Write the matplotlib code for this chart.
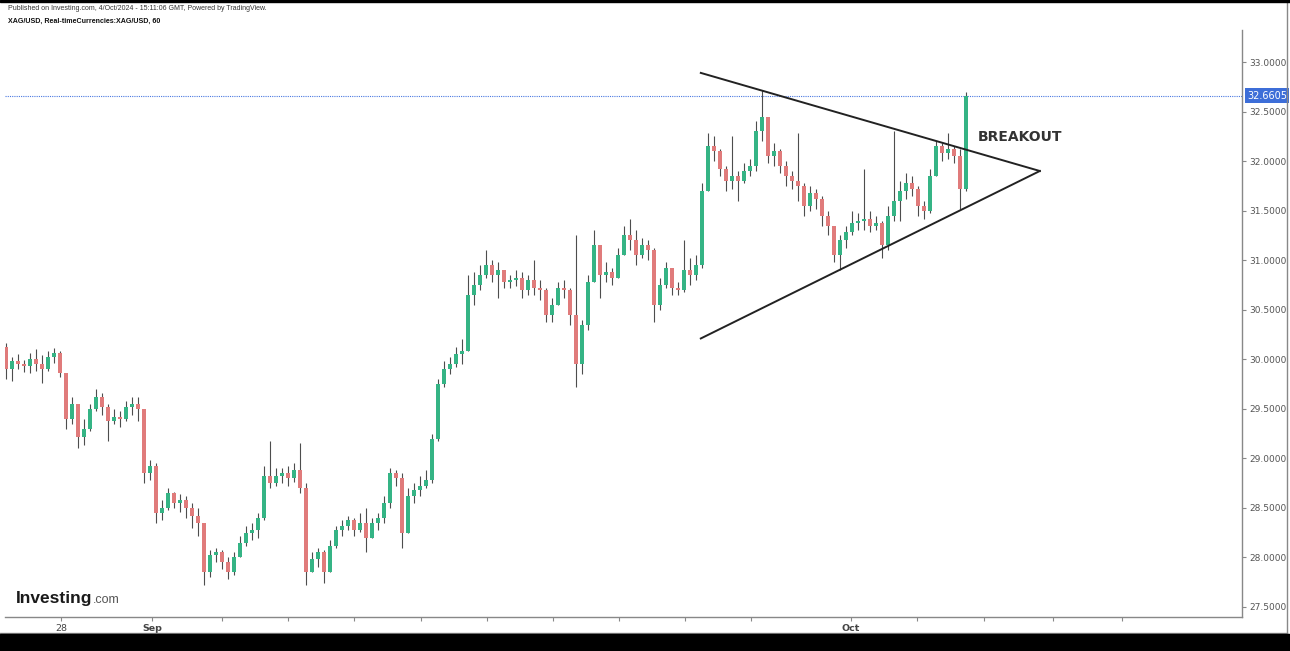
import numpy as np
import matplotlib
matplotlib.use("Agg")
import matplotlib.pyplot as plt
from matplotlib.lines import Line2D
from matplotlib.patches import Rectangle
import matplotlib.transforms as mtransforms

# XAG/USD candles (one candle every ~2 hours)
first_open = 30.12
closes = [29.90, 29.98, 29.95, 29.93, 30.00, 29.95, 29.90, 30.02, 30.06, 29.86,
          29.40, 29.55, 29.22, 29.30, 29.50, 29.62, 29.52, 29.38, 29.42, 29.40,
          29.52, 29.55, 29.50, 28.85, 28.92, 28.45, 28.50, 28.65, 28.55, 28.58,
          28.50, 28.42, 28.35, 27.85, 28.02, 28.05, 27.95, 27.85, 28.00, 28.15,
          28.25, 28.28, 28.40, 28.82, 28.75, 28.82, 28.85, 28.80, 28.88, 28.70,
          27.85, 27.98, 28.05, 27.85, 28.12, 28.28, 28.32, 28.38, 28.28, 28.35,
          28.20, 28.35, 28.40, 28.55, 28.85, 28.80, 28.25, 28.62, 28.68, 28.72,
          28.78, 29.20, 29.75, 29.90, 29.95, 30.05, 30.08, 30.65, 30.75, 30.85,
          30.95, 30.85, 30.90, 30.78, 30.80, 30.82, 30.70, 30.80, 30.72, 30.70,
          30.45, 30.55, 30.72, 30.70, 30.45, 29.95, 30.35, 30.78, 31.15, 30.85,
          30.88, 30.82, 31.05, 31.25, 31.20, 31.05, 31.15, 31.10, 30.55, 30.75,
          30.92, 30.72, 30.70, 30.90, 30.85, 30.95, 31.70, 32.15, 32.10, 31.92,
          31.80, 31.85, 31.80, 31.90, 31.95, 32.30, 32.45, 32.05, 32.10, 31.95,
          31.85, 31.80, 31.75, 31.55, 31.68, 31.62, 31.45, 31.35, 31.05, 31.20,
          31.28, 31.38, 31.40, 31.42, 31.35, 31.38, 31.15, 31.45, 31.60, 31.70,
          31.78, 31.72, 31.55, 31.50, 31.85, 32.15, 32.08, 32.12, 32.05, 31.72,
          32.66]
highs = [30.16, 30.02, 30.05, 29.99, 30.06, 30.10, 30.04, 30.08, 30.11, 30.08,
         29.85, 29.62, 29.45, 29.40, 29.55, 29.70, 29.66, 29.55, 29.50, 29.48,
         29.58, 29.62, 29.62, 29.45, 28.98, 28.95, 28.58, 28.70, 28.66, 28.64,
         28.62, 28.55, 28.50, 28.30, 28.08, 28.10, 28.08, 28.00, 28.05, 28.22,
         28.32, 28.35, 28.45, 28.92, 29.18, 28.90, 28.90, 28.92, 28.95, 29.15,
         28.75, 28.05, 28.10, 28.08, 28.18, 28.32, 28.38, 28.42, 28.40, 28.45,
         28.50, 28.40, 28.45, 28.62, 28.90, 28.88, 28.85, 28.70, 28.75, 28.82,
         28.88, 29.25, 29.80, 29.98, 30.02, 30.12, 30.20, 30.85, 30.88, 30.95,
         31.10, 31.00, 30.98, 30.88, 30.85, 30.90, 30.88, 30.85, 31.00, 30.80,
         30.72, 30.62, 30.78, 30.80, 30.72, 31.25, 30.40, 30.85, 31.30, 31.15,
         30.98, 30.92, 31.12, 31.35, 31.42, 31.30, 31.22, 31.20, 31.12, 30.82,
         30.98, 30.90, 30.78, 31.20, 31.02, 31.05, 31.78, 32.28, 32.25, 32.12,
         31.95, 32.25, 31.90, 31.98, 32.02, 32.40, 32.72, 32.45, 32.18, 32.12,
         32.00, 31.90, 32.28, 31.78, 31.75, 31.72, 31.65, 31.50, 31.35, 31.25,
         31.35, 31.50, 31.48, 31.92, 31.50, 31.45, 31.40, 31.55, 32.30, 31.80,
         31.88, 31.85, 31.75, 31.60, 31.92, 32.20, 32.18, 32.28, 32.15, 32.12,
         32.70]
lows = [29.80, 29.78, 29.90, 29.87, 29.86, 29.88, 29.76, 29.88, 29.96, 29.82,
        29.30, 29.35, 29.10, 29.13, 29.28, 29.48, 29.44, 29.18, 29.35, 29.32,
        29.38, 29.44, 29.38, 28.75, 28.78, 28.35, 28.38, 28.48, 28.50, 28.46,
        28.40, 28.30, 28.22, 27.72, 27.80, 27.95, 27.88, 27.78, 27.82, 28.00,
        28.12, 28.18, 28.20, 28.38, 28.70, 28.72, 28.75, 28.72, 28.76, 28.65,
        27.72, 27.85, 27.90, 27.74, 27.90, 28.10, 28.22, 28.28, 28.22, 28.26,
        28.06, 28.22, 28.28, 28.35, 28.50, 28.72, 28.10, 28.25, 28.55, 28.62,
        28.70, 28.75, 29.18, 29.72, 29.85, 29.92, 29.95, 30.20, 30.55, 30.70,
        30.82, 30.78, 30.62, 30.72, 30.72, 30.74, 30.62, 30.65, 30.65, 30.60,
        30.38, 30.38, 30.55, 30.62, 30.35, 29.72, 29.85, 30.30, 30.80, 30.62,
        30.78, 30.75, 30.85, 31.05, 31.10, 30.95, 31.02, 31.00, 30.38, 30.50,
        30.72, 30.65, 30.65, 30.68, 30.75, 30.80, 30.92, 31.70, 32.00, 31.85,
        31.70, 31.72, 31.60, 31.78, 31.85, 31.90, 32.20, 31.98, 31.95, 31.88,
        31.75, 31.72, 31.60, 31.45, 31.50, 31.52, 31.35, 31.25, 30.98, 30.90,
        31.12, 31.25, 31.30, 31.30, 31.28, 31.30, 31.02, 31.10, 31.40, 31.40,
        31.62, 31.65, 31.45, 31.42, 31.48, 31.85, 32.00, 32.02, 31.98, 31.52,
        31.70]

last_price = 32.6605

# triangle trendlines (candle index, price)
upper_x = [115.8, 172.3]
upper_y = [32.89, 31.90]
lower_x = [115.8, 172.3]
lower_y = [30.21, 31.90]

y_ticks = [27.5, 28.0, 28.5, 29.0, 29.5, 30.0, 30.5, 31.0, 31.5, 32.0, 32.5, 33.0]
x_ticks = [9.2, 24.3, 36, 47, 58, 69.2, 80.2, 91.2, 102.2, 113.2, 124.2,
           140.8, 151.8, 163, 174.5, 186]
x_labels = ['28', 'Sep', '', '', '', '', '', '', '', '', '', 'Oct', '', '', '', '']

W, H = 1290, 651
fig = plt.figure(figsize=(W / 100, H / 100), dpi=100)
fig.patch.set_facecolor('white')
ax = fig.add_axes([5 / W, (H - 617) / H, (1242 - 5) / W, (617 - 30) / H])

c = np.array(closes)
o = np.concatenate([[first_open], c[:-1]])
hi = np.maximum(np.array(highs), np.maximum(o, c))
lo = np.minimum(np.array(lows), np.minimum(o, c))
x = np.arange(len(c))
up = c >= o
green, red = '#35b485', '#e07b7b'
cols = np.where(up, green, red)

ax.vlines(x, lo, hi, color='#4d4d4d', lw=0.8, zorder=2)
body = np.maximum(np.abs(c - o), 0.008)
ax.bar(x, body, bottom=np.minimum(o, c), width=0.55, color=cols,
       edgecolor='none', zorder=3)

ax.plot(upper_x, upper_y, color='#222222', lw=1.4, zorder=4)
ax.plot(lower_x, lower_y, color='#222222', lw=1.4, zorder=4)
ax.text(169, 32.24, 'BREAKOUT', fontsize=10, fontweight='bold', color='#333333',
        ha='center', va='center')

ax.axhline(last_price, color='#4a78e0', ls=(0, (1, 1)), lw=0.8, zorder=1)
trans = mtransforms.blended_transform_factory(ax.transAxes, ax.transData)
ax.text(1.004, last_price, f'{last_price:.4f}', transform=trans, ha='left',
        va='center', color='white', fontsize=7, clip_on=False,
        bbox=dict(boxstyle='square,pad=0.25', fc='#3d6ed8', ec='none'))

ax.set_xlim(-0.17, 206.0)
ax.set_ylim(27.399, 33.323)
ax.yaxis.tick_right()
ax.set_yticks(y_ticks)
ax.set_yticklabels([f'{v:.4f}' for v in y_ticks])
ax.set_xticks(x_ticks)
ax.set_xticklabels(x_labels)
for lab in ax.get_xticklabels():
    if lab.get_text() in ('Sep', 'Oct'):
        lab.set_fontweight('bold')
ax.tick_params(axis='y', colors='#888888', labelcolor='#555555', labelsize=6.5,
               length=3, pad=2)
ax.tick_params(axis='x', colors='#888888', labelcolor='#444444', labelsize=6.8,
               length=3, pad=2)
for s in ('top', 'left'):
    ax.spines[s].set_visible(False)
for s in ('right', 'bottom'):
    ax.spines[s].set_color('#888888')
    ax.spines[s].set_linewidth(1)

# frame and black band
fig.add_artist(Rectangle((0, 0), 1, 17 / H, transform=fig.transFigure,
                         color='black', zorder=10))
fig.add_artist(Rectangle((0, 1 - 2 / H), 1, 2 / H, transform=fig.transFigure,
                         color='black', zorder=10))
fig.add_artist(Line2D([0, 1287 / W], [(H - 633) / H] * 2, color='#888888', lw=1))
fig.add_artist(Line2D([1287 / W] * 2, [(H - 633) / H, 1 - 2 / H], color='#888888', lw=1))

fig.text(8 / W, 1 - 9 / H,
         'Published on Investing.com, 4/Oct/2024 - 15:11:06 GMT, Powered by TradingView.',
         fontsize=5.0, family='Liberation Sans', color='#333333', va='center')
fig.text(8 / W, 1 - 21 / H, 'XAG/USD, Real-timeCurrencies:XAG/USD, 60',
         fontsize=5.1, family='Liberation Sans', fontweight='bold', color='#111111',
         va='center')

fig.text(16 / W, (H - 603) / H, 'Investing', fontsize=12.5, family='Liberation Sans',
         fontweight='bold', color='#1a1a1a', va='baseline')
fig.text(93 / W, (H - 603) / H, '.com', fontsize=9, family='Liberation Sans',
         color='#555555', va='baseline')

fig.savefig('out.png', dpi=100)
